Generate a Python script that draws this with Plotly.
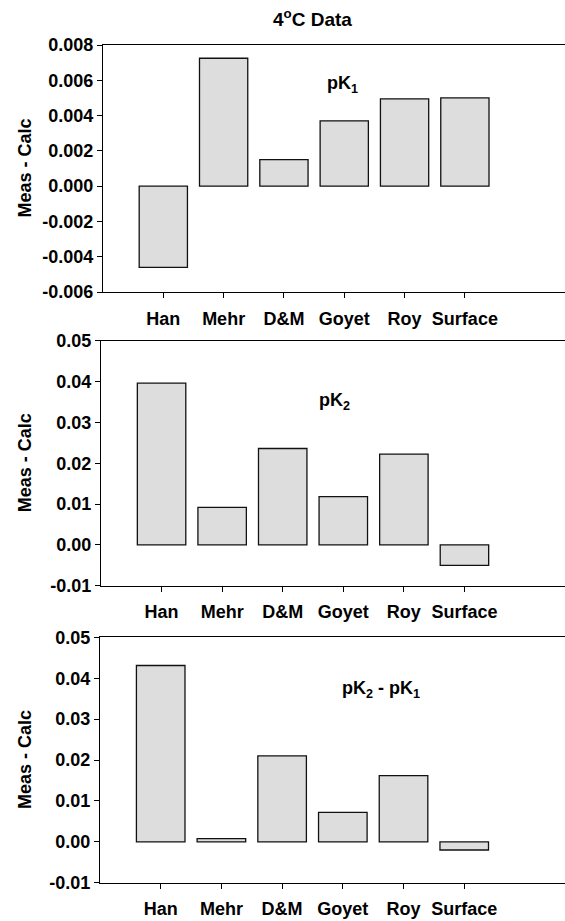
import plotly.graph_objects as go

# Sources compared against the calculated values
sources = ["Han", "Mehr", "D&M", "Goyet", "Roy", "Surface"]

# Measured minus calculated residuals at 4 °C
pk1_diff = [-0.0046, 0.00725, 0.0015, 0.0037, 0.00495, 0.0050]
pk2_diff = [0.0396, 0.0092, 0.0236, 0.0118, 0.0222, -0.0050]
pk2_pk1_diff = [0.0431, 0.0008, 0.0210, 0.0072, 0.0162, -0.0020]

# Y tick values and labels for each panel
pk1_ticks = [-0.006, -0.004, -0.002, 0.0, 0.002, 0.004, 0.006, 0.008]
pk1_ticktext = ["-0.006", "-0.004", "-0.002", "0.000", "0.002", "0.004", "0.006", "0.008"]
pk2_ticks = [-0.01, 0.0, 0.01, 0.02, 0.03, 0.04, 0.05]
pk2_ticktext = ["-0.01", "0.00", "0.01", "0.02", "0.03", "0.04", "0.05"]

panel_labels = ["pK<sub>1</sub>", "pK<sub>2</sub>", "pK<sub>2</sub> - pK<sub>1</sub>"]
y_title = "Meas - Calc"
chart_title = "4<sup>o</sup>C Data"

W, H = 565, 921
FONT = "Liberation Sans, Arial, sans-serif"
BAR_FILL = "#dddddd"


def bold(items):
    return ["<b>" + s + "</b>" for s in items]


fig = go.Figure()

series = [pk1_diff, pk2_diff, pk2_pk1_diff]
# pixel layout of each panel: (left, top, bottom)
panels = [(103, 45, 292), (101, 340.7, 585.7), (100, 637.3, 882.7)]
yranges = [[-0.006, 0.008], [-0.01, 0.05], [-0.01, 0.05]]
yticks = [(pk1_ticks, pk1_ticktext), (pk2_ticks, pk2_ticktext), (pk2_ticks, pk2_ticktext)]
label_pos = [(342, 84), (334, 401), (381, 689)]

for i, vals in enumerate(series):
    n = "" if i == 0 else str(i + 1)
    fig.add_trace(go.Bar(
        x=list(range(len(sources))), y=vals,
        xaxis="x" + n, yaxis="y" + n,
        width=0.8,
        marker=dict(color=BAR_FILL, line=dict(color="#111111", width=1.3)),
        showlegend=False, hoverinfo="skip",
    ))
    left, top, bottom = panels[i]
    fig.layout["xaxis" + n] = dict(
        domain=[left / W, 1.0],
        range=[-1, 6.66],
        tickvals=list(range(len(sources))), ticktext=bold(sources),
        ticks="outside", ticklen=5, tickwidth=1.2, tickcolor="black",
        showline=True, linecolor="black", linewidth=1.2, mirror=True,
        showgrid=False, zeroline=False, automargin=False,
        anchor="y" + n,
        tickfont=dict(family=FONT, size=18, color="black"),
        ticklabelstandoff=5,
    )
    tv, tt = yticks[i]
    fig.layout["yaxis" + n] = dict(
        domain=[1 - bottom / H, 1 - top / H],
        range=yranges[i],
        tickvals=tv, ticktext=bold(tt),
        ticks="outside", ticklen=5, tickwidth=1.2, tickcolor="black",
        showline=True, linecolor="black", linewidth=1.2, mirror=False,
        showgrid=False, zeroline=False, automargin=False,
        anchor="x" + n,
        tickfont=dict(family=FONT, size=18, color="black"),
    )
    fig.add_annotation(
        text="<b>" + y_title + "</b>", textangle=-90,
        x=25 / W, y=1 - (top + bottom) / 2 / H, xref="paper", yref="paper",
        xanchor="center", yanchor="middle",
        showarrow=False, font=dict(family=FONT, size=18, color="black"),
    )
    lx, ly = label_pos[i]
    fig.add_annotation(
        text="<b>" + panel_labels[i] + "</b>",
        x=lx / W, y=1 - ly / H, xref="paper", yref="paper",
        xanchor="center", yanchor="middle",
        showarrow=False, font=dict(family=FONT, size=18, color="black"),
    )

fig.add_annotation(
    text="<b>" + chart_title + "</b>",
    x=312 / W, y=1 - 18 / H, xref="paper", yref="paper",
    xanchor="center", yanchor="middle",
    showarrow=False, font=dict(family=FONT, size=19, color="black"),
)

fig.update_layout(
    width=W, height=H,
    margin=dict(l=0, r=0, t=0, b=0),
    paper_bgcolor="white", plot_bgcolor="white",
    font=dict(family=FONT, size=18, color="black"),
    bargap=0.2,
)

fig.write_html("out.html")
